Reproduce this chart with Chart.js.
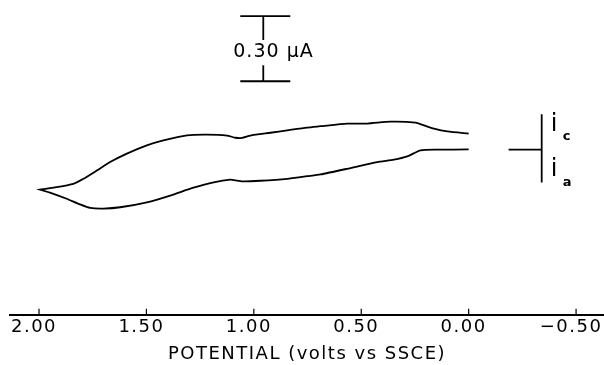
<!DOCTYPE html>
<html>
<head>
<meta charset="utf-8">
<script src="https://cdn.jsdelivr.net/npm/chart.js@4/dist/chart.umd.min.js"></script>
<style>
  body { margin: 0; background: #fff; }
  #wrap { width: 604px; height: 365px; }
</style>
</head>
<body>
<div id="wrap"><canvas id="cvChart"></canvas></div>
<script>
// potential in volts vs SSCE, current in microamps (cathodic up)
const upperPotential = [0.00, 0.099, 0.162, 0.208, 0.247, 0.364, 0.472, 0.566, 0.690, 0.752, 0.845, 0.923, 1.016, 1.055, 1.086, 1.125, 1.218, 1.311, 1.421, 1.498, 1.591, 1.669, 1.731, 1.793, 1.840, 1.933, 1.995];
const upperCurrent   = [0.074, 0.084, 0.097, 0.112, 0.125, 0.129, 0.120, 0.120, 0.108, 0.102, 0.089, 0.078, 0.065, 0.054, 0.055, 0.065, 0.069, 0.066, 0.043, 0.020, -0.018, -0.057, -0.096, -0.134, -0.157, -0.175, -0.184];
const lowerPotential = [1.995, 1.933, 1.871, 1.809, 1.762, 1.700, 1.622, 1.498, 1.389, 1.281, 1.187, 1.110, 1.078, 1.048, 0.970, 0.845, 0.752, 0.690, 0.566, 0.426, 0.348, 0.286, 0.224, 0.147, 0.00];
const lowerCurrent   = [-0.184, -0.203, -0.226, -0.252, -0.268, -0.271, -0.265, -0.242, -0.211, -0.175, -0.150, -0.138, -0.142, -0.146, -0.143, -0.134, -0.122, -0.114, -0.088, -0.057, -0.046, -0.031, -0.003, 0.000, 0.001];
const potentialTicks = [2.0, 1.5, 1.0, 0.5, 0.0, -0.5];
const scaleBarCurrent = 0.30;

const cvPoints = [];
for (let i = 0; i < upperPotential.length; i++) cvPoints.push({ x: upperPotential[i], y: upperCurrent[i] });
for (let i = 0; i < lowerPotential.length; i++) cvPoints.push({ x: lowerPotential[i], y: lowerCurrent[i] });

const fontFam = "'DejaVu Sans', sans-serif";

// the old plotter lettering is widely spaced
const spacing = {
    id: 'spacing',
    beforeLayout(chart) { chart.ctx.letterSpacing = '1.5px'; },
    beforeDraw(chart) { chart.ctx.letterSpacing = '1.5px'; }
};

const extras = {
    id: 'extras',
    afterDraw(chart) {
        const ctx = chart.ctx;
        const xs = chart.scales.x, ys = chart.scales.y;
        const area = chart.chartArea;
        ctx.save();
        ctx.strokeStyle = '#000';
        ctx.fillStyle = '#000';

        // small inward tick marks on the potential axis
        ctx.lineWidth = 1.2;
        potentialTicks.forEach(v => {
            const px = xs.getPixelForValue(v);
            ctx.beginPath();
            ctx.moveTo(px, area.bottom);
            ctx.lineTo(px, area.bottom - 6);
            ctx.stroke();
        });

        // current scale bar (0.30 uA)
        const barX = xs.getPixelForValue(0.956);
        const barTop = ys.getPixelForValue(0.615);
        const barBot = ys.getPixelForValue(0.615 - scaleBarCurrent);
        ctx.lineWidth = 1.8;
        ctx.beginPath();
        ctx.moveTo(barX - 23, barTop); ctx.lineTo(barX + 27, barTop);
        ctx.moveTo(barX - 23, barBot); ctx.lineTo(barX + 27, barBot);
        ctx.moveTo(barX, barTop); ctx.lineTo(barX, barTop + 24);
        ctx.moveTo(barX, barBot); ctx.lineTo(barX, barBot - 16);
        ctx.stroke();
        ctx.letterSpacing = '1px';
        ctx.font = '19px ' + fontFam;
        ctx.textBaseline = 'middle';
        ctx.textAlign = 'left';
        ctx.fillText('0.30 \u03bcA', barX - 30, (barTop + barBot) / 2 + 3);

        // zero-current marker with i_c / i_a
        const zy = ys.getPixelForValue(0);
        const mx0 = xs.getPixelForValue(-0.186);
        const mx1 = xs.getPixelForValue(-0.340);
        ctx.lineWidth = 1.8;
        ctx.beginPath();
        ctx.moveTo(mx0, zy); ctx.lineTo(mx1, zy);
        ctx.moveTo(mx1, ys.getPixelForValue(0.163)); ctx.lineTo(mx1, ys.getPixelForValue(-0.151));
        ctx.stroke();
        ctx.letterSpacing = '0px';
        ctx.font = '24px ' + fontFam;
        ctx.fillText('i', mx1 + 9, zy - 25);
        ctx.fillText('i', mx1 + 9, zy + 20);
        ctx.font = 'bold 13px ' + fontFam;
        ctx.fillText('c', mx1 + 21, zy - 13);
        ctx.fillText('a', mx1 + 21, zy + 33);
        ctx.restore();
    }
};

const cv = document.getElementById('cvChart').getContext('2d');
const cvChart = new Chart(cv, {
    type: 'scatter',
    data: {
        datasets: [{
            data: cvPoints,
            showLine: true,
            borderColor: '#000',
            backgroundColor: 'transparent',
            borderWidth: 1.8,
            pointRadius: 0,
            tension: 0.2
        }]
    },
    options: {
        responsive: true,
        maintainAspectRatio: false,
        animation: false,
        layout: { padding: { left: 10, right: 0, top: 0, bottom: 0 } },
        plugins: {
            legend: { display: false },
            tooltip: { enabled: false }
        },
        scales: {
            x: {
                type: 'linear',
                reverse: true,
                min: -0.63,
                max: 2.135,
                afterBuildTicks: scale => {
                    scale.ticks = potentialTicks.map(v => ({ value: v }));
                },
                afterFit: scale => {
                    scale.paddingLeft = 0;
                    scale.paddingRight = 0;
                },
                grid: { display: true, drawOnChartArea: false, drawTicks: false },
                border: { display: true, color: '#000', width: 2 },
                ticks: {
                    color: '#000',
                    padding: 2,
                    labelOffset: -5,
                    maxRotation: 0,
                    font: { family: fontFam, size: 18 },
                    callback: v => (v < 0 ? '\u2212' + Math.abs(v).toFixed(2) : v.toFixed(2))
                },
                title: {
                    display: true,
                    text: 'POTENTIAL (volts vs SSCE)',
                    color: '#000',
                    padding: { top: 3, bottom: 0 },
                    font: { family: fontFam, size: 18 }
                }
            },
            y: {
                display: false,
                min: -0.760,
                max: 0.689
            }
        }
    },
    plugins: [spacing, extras]
});
</script>
</body>
</html>
